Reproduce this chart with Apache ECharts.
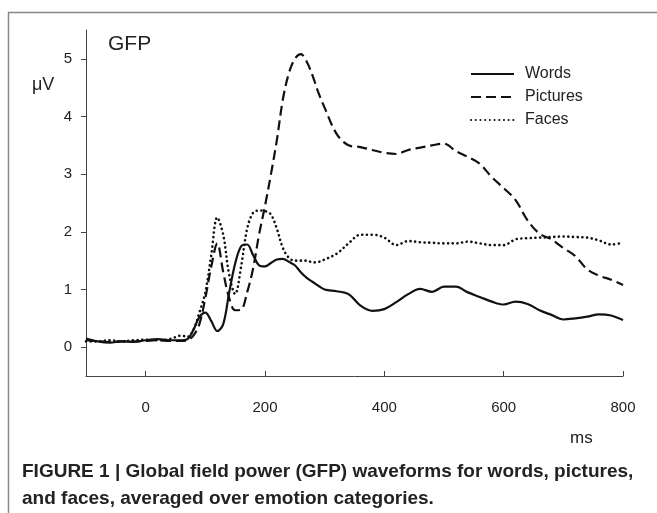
<!DOCTYPE html>
<html>
<head>
<meta charset="utf-8">
<script src="https://cdn.jsdelivr.net/npm/echarts@6/dist/echarts.min.js"></script>
<style>
  html, body { margin: 0; padding: 0; background: #fff; }
  #main { width: 657px; height: 513px; }
</style>
</head>
<body>
<div id="main"></div>
<script>
// time in ms, GFP in µV
var times = [-100, -80, -60, -40, -20, 0, 20, 40, 60, 70, 80, 90, 100, 110, 120, 130, 140, 150, 160, 170,
  180, 190, 200, 210, 220, 230, 240, 250, 260, 270, 280, 290, 300, 320, 340, 360, 380, 400, 420, 440,
  460, 480, 500, 520, 540, 560, 580, 600, 620, 640, 660, 680, 700, 720, 740, 760, 780, 800];

var words = [0.15, 0.1, 0.08, 0.1, 0.09, 0.12, 0.14, 0.12, 0.12, 0.14, 0.3, 0.52, 0.6, 0.45, 0.28, 0.4, 0.95, 1.45, 1.75, 1.78,
  1.6, 1.42, 1.4, 1.46, 1.52, 1.53, 1.48, 1.42, 1.3, 1.2, 1.13, 1.06, 1.0, 0.97, 0.92, 0.72, 0.63, 0.66, 0.78, 0.92,
  1.01, 0.96, 1.05, 1.05, 0.95, 0.87, 0.79, 0.74, 0.79, 0.75, 0.64, 0.56, 0.48, 0.5, 0.53, 0.57, 0.55, 0.47];

var pictures = [0.12, 0.1, 0.09, 0.1, 0.1, 0.11, 0.12, 0.11, 0.11, 0.12, 0.2, 0.4, 0.85, 1.4, 1.8, 1.3, 0.85, 0.64, 0.65, 0.95,
  1.36, 1.95, 2.45, 3.0, 3.6, 4.3, 4.75, 5.0, 5.08, 4.95, 4.7, 4.4, 4.15, 3.7, 3.5, 3.47, 3.42, 3.37, 3.35, 3.42,
  3.46, 3.5, 3.53, 3.4, 3.3, 3.18, 2.95, 2.76, 2.55, 2.2, 1.97, 1.87, 1.72, 1.58, 1.35, 1.24, 1.17, 1.08];

var faces = [0.1, 0.1, 0.12, 0.1, 0.12, 0.13, 0.12, 0.14, 0.2, 0.18, 0.3, 0.6, 0.95, 1.6, 2.25, 1.95, 1.25, 0.92, 1.4, 2.05,
  2.33, 2.37, 2.36, 2.3, 2.05, 1.72, 1.55, 1.5, 1.5, 1.5, 1.47, 1.48, 1.52, 1.62, 1.8, 1.95, 1.95, 1.9, 1.77, 1.84,
  1.82, 1.81, 1.8, 1.8, 1.83, 1.8, 1.77, 1.77, 1.87, 1.89, 1.9, 1.91, 1.92, 1.91, 1.9, 1.85, 1.78, 1.81];

var seriesNames = ['Words', 'Pictures', 'Faces'];
var xTicks = [0, 200, 400, 600, 800];
var yTicks = [0, 1, 2, 3, 4, 5];

function pairs(vals) {
  return times.map(function (t, i) { return [t, vals[i]]; });
}

var font = 'Liberation Sans, Arial, sans-serif';
var ink = '#111';

var chart = echarts.init(document.getElementById('main'), null, { renderer: 'canvas' });

var option = {
  backgroundColor: '#fff',
  animation: false,
  grid: { left: 86, right: 34, top: 30, bottom: 137 },
  legend: {
    orient: 'vertical',
    left: 465,
    top: 61,
    itemWidth: 43,
    itemHeight: 16,
    itemGap: 7,
    itemStyle: { opacity: 0 },
    textStyle: { fontFamily: font, fontSize: 16, color: '#222', padding: [0, 0, 0, 6] },
    data: seriesNames
  },
  xAxis: {
    type: 'value',
    min: -100,
    max: 800,
    splitLine: { show: false },
    axisLine: { onZero: false, lineStyle: { color: '#444', width: 1 } },
    axisTick: { inside: true, length: 5, customValues: xTicks, lineStyle: { color: '#444' } },
    axisLabel: { customValues: xTicks, margin: 24, fontFamily: font, fontSize: 15, color: '#222' }
  },
  yAxis: {
    type: 'value',
    min: -0.5,
    max: 5.5,
    splitLine: { show: false },
    axisLine: { show: true, onZero: false, lineStyle: { color: '#444', width: 1 } },
    axisTick: { show: true, length: 5, customValues: yTicks, lineStyle: { color: '#444' } },
    axisLabel: { customValues: yTicks, margin: 14, fontFamily: font, fontSize: 15, color: '#222' }
  },
  series: [
    {
      name: 'Words', type: 'line', data: pairs(words), smooth: 0.35, symbol: 'none',
      lineStyle: { color: ink, width: 2.2, type: 'solid' }, itemStyle: { color: ink }
    },
    {
      name: 'Pictures', type: 'line', data: pairs(pictures), smooth: 0.35, symbol: 'none',
      lineStyle: { color: ink, width: 2.2, type: [10, 5] }, itemStyle: { color: ink }
    },
    {
      name: 'Faces', type: 'line', data: pairs(faces), smooth: 0.35, symbol: 'none',
      lineStyle: { color: ink, width: 2.6, type: [0.1, 4.6], cap: 'round' }, itemStyle: { color: ink }
    }
  ],
  graphic: [
    { type: 'line', shape: { x1: 8, y1: 12.5, x2: 657, y2: 12.5 }, style: { stroke: '#888', lineWidth: 1.5 } },
    { type: 'line', shape: { x1: 8.5, y1: 12, x2: 8.5, y2: 513 }, style: { stroke: '#888', lineWidth: 1.5 } },
    { type: 'text', left: 108, top: 34, style: { text: 'GFP', font: '21px ' + font, fill: '#222' } },
    { type: 'text', left: 32, top: 76, style: { text: 'μV', font: '18px ' + font, fill: '#222' } },
    { type: 'text', left: 570, top: 430, style: { text: 'ms', font: '17px ' + font, fill: '#222' } },
    {
      type: 'text', left: 22, top: 458,
      style: {
        text: 'FIGURE 1 | Global field power (GFP) waveforms for words, pictures,\nand faces, averaged over emotion categories.',
        font: 'bold 19px "Liberation Sans Narrow", ' + font, fill: '#222', lineHeight: 27
      }
    }
  ]
};

chart.setOption(option);
</script>
</body>
</html>
